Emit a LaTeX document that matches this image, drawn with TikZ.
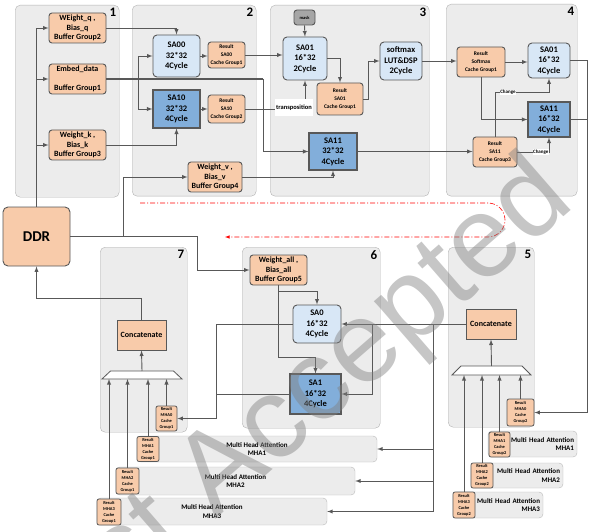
\documentclass[tikz,border=0pt]{standalone}
\usepackage{fontspec}
\setmainfont{Carlito}
\newfontfamily\markfont{Liberation Sans}
\usepackage{tikz}

\definecolor{peach}{RGB}{248,203,170}
\definecolor{salight}{RGB}{216,231,246}
\definecolor{sadark}{RGB}{130,174,218}
\definecolor{panelgray}{RGB}{236,236,236}
\definecolor{edge}{RGB}{88,88,88}

\tikzset{
  panel/.style={rectangle, draw=gray!60, fill=panelgray, rounded corners=5pt, anchor=north west},
  num/.style={anchor=north east, inner sep=3pt, font=\bfseries\fontsize{13}{13}\selectfont},
  buffer/.style={rectangle, draw=edge, line width=0.9pt, fill=peach, rounded corners=3pt, align=center, inner sep=0pt, font=\bfseries\fontsize{8}{9.5}\selectfont},
  cache/.style={buffer, font=\bfseries\fontsize{5.5}{8}\selectfont},
  tinycache/.style={buffer, rounded corners=2pt, line width=0.8pt, font=\bfseries\fontsize{4.4}{6}\selectfont},
  salite/.style={rectangle, draw=edge, line width=0.9pt, fill=salight, rounded corners=4pt, align=center, inner sep=0pt, font=\bfseries\fontsize{8.5}{10.5}\selectfont},
  sadeep/.style={salite, fill=sadark, rounded corners=0pt, line width=1.1pt},
  concat/.style={rectangle, draw=edge, line width=1pt, fill=peach, font=\bfseries\fontsize{8}{9}\selectfont},
  mux/.style={draw=edge, line width=0.8pt, fill=white},
  headbar/.style={rectangle, draw=gray!55, fill=panelgray, rounded corners=4pt, align=center, font=\bfseries\fontsize{7}{8.5}\selectfont},
  rhead/.style={headbar, align=right, inner xsep=3pt},
  chg/.style={fill=white, text=black, inner sep=0.6pt, font=\bfseries\fontsize{5}{6}\selectfont},
  wire/.style={color=edge, line width=0.9pt},
}

\begin{document}
\begin{tikzpicture}[x=1pt, y=-1pt]
\useasboundingbox (0,0) rectangle (600,532);

%% stage panels
\node at (15,5) [panel, minimum width=104pt, minimum height=192pt] (p1) {};
\node [num] at (p1.north east) {1};
\node at (132,5) [panel, minimum width=124pt, minimum height=191pt] (p2) {};
\node [num] at (p2.north east) {2};
\node at (270,5) [panel, minimum width=159pt, minimum height=191pt] (p3) {};
\node [num] at (p3.north east) {3};
\node at (446,4) [panel, minimum width=131pt, minimum height=192pt] (p4) {};
\node [num] at (p4.north east) {4};
\node at (100,247) [panel, minimum width=87pt, minimum height=185pt] (p7) {};
\node [num] at (p7.north east) {7};
\node at (242,247) [panel, minimum width=138pt, minimum height=181pt] (p6) {};
\node [num] at (p6.north east) {6};
\node at (448,247) [panel, minimum width=86pt, minimum height=180pt] (p5) {};
\node [num] at (p5.north east) {5};

%% stage 1
\node at (77.5,28) [buffer, minimum width=57pt, minimum height=30pt] (wq) {WEight\_q ,\\Bias\_q\\Buffer Group2};
\node at (77.5,79) [buffer, minimum width=57pt, minimum height=30pt] (emb) {Embed\_data\\\mbox{}\\Buffer Group1};
\node at (77.5,145) [buffer, minimum width=57pt, minimum height=30pt] (wk) {Weight\_k ,\\Bias\_k\\Buffer Group3};

%% stage 2
\node at (176.5,56) [salite, minimum width=47pt, minimum height=42pt] (sa00) {SA00\\32*32\\4Cycle};
\node at (176.5,109) [sadeep, minimum width=47pt, minimum height=38pt] (sa10) {SA10\\32*32\\4Cycle};
\node at (226.5,55) [cache, minimum width=37pt, minimum height=26pt] (rsa00) {Result\\SA00\\Cache Group1};
\node at (226.5,109) [cache, minimum width=37pt, minimum height=28pt] (rsa10) {Result\\SA10\\Cache Group2};
\node at (215,177) [buffer, minimum width=54pt, minimum height=30pt] (wv) {Weight\_v ,\\Bias\_v\\Buffer Group4};

%% stage 3
\node at (304.5,17.5) [buffer, fill=gray!70, minimum width=21pt, minimum height=15pt, font=\bfseries\fontsize{4.5}{5}\selectfont] (mask) {mask};
\node at (305,58.5) [salite, minimum width=44pt, minimum height=43pt] (sa01) {SA01\\16*32\\2Cycle};
\node at (340,99) [cache, minimum width=46pt, minimum height=32pt] (rsa01) {Result\\SA01\\Cache Group1};
\node at (401,61) [salite, minimum width=42pt, minimum height=38pt] (smax) {softmax\\LUT\&DSP\\2Cycle};
\node at (333,151.5) [sadeep, minimum width=48pt, minimum height=37pt] (sa11t) {SA11\\32*32\\4Cycle};

%% stage 4
\node at (481,62) [cache, minimum width=48pt, minimum height=30pt] (rsm) {Result\\Softmax\\Cache Group1};
\node at (549,60.5) [salite, minimum width=42pt, minimum height=35pt] (sa01f) {SA01\\16*32\\4Cycle};
\node at (549,119.5) [sadeep, minimum width=42pt, minimum height=35pt] (sa11f) {SA11\\16*32\\4Cycle};
\node at (495,152) [cache, minimum width=44pt, minimum height=30pt] (rsa11) {Result\\SA11\\Cache Group3};

%% memory
\node at (36.5,236.5) [buffer, rounded corners=5pt, minimum width=67pt, minimum height=59pt, font=\bfseries\fontsize{15}{15}\selectfont] (ddr) {DDR};

%% stage 7
\node at (141.5,335) [concat, minimum width=49pt, minimum height=30pt] (cat7) {Concatenate};
\coordinate (mux7t) at (142,371);
\coordinate (mux7b) at (142,379);
\draw [mux] (mux7t) ++(-31.5,0) -- ++(63,0) -- ++(8.5,8) -- ++(-80,0) -- cycle;
\node at (166.5,418.5) [tinycache, minimum width=21pt, minimum height=25pt] (rm0s) {Result\\MHA0\\Cache\\Group1};

%% stage 6
\node at (278.5,270) [buffer, minimum width=57pt, minimum height=30pt] (wall) {Weight\_all ,\\Bias\_all\\Buffer Group5};
\node at (317,324) [salite, minimum width=48pt, minimum height=38pt] (sa0six) {SA0\\16*32\\4Cycle};
\node at (315.5,394) [sadeep, minimum width=51pt, minimum height=40pt] (sa1six) {SA1\\16*32\\4Cycle};

%% stage 5
\node at (491,324) [concat, minimum width=50pt, minimum height=30pt] (cat5) {Concatenate};
\coordinate (mux5t) at (491.5,366);
\coordinate (mux5b) at (491.5,375);
\draw [mux] (mux5t) ++(-30.5,0) -- ++(61,0) -- ++(9,9) -- ++(-79,0) -- cycle;
\node at (520.5,412.5) [tinycache, minimum width=27pt, minimum height=27pt] (rm0f) {Result\\MHA0\\Cache\\Group2};

%% other heads
\node at (257,449) [headbar, minimum width=240pt, minimum height=26pt] (mha1) {Multi Head Attention\\MHA1};
\node at (235.5,481) [headbar, minimum width=239pt, minimum height=28pt] (mha2) {Multi Head Attention\\MHA2};
\node at (212,511.5) [headbar, minimum width=230pt, minimum height=27pt] (mha3) {Multi Head Attention\\MHA3};
\node at (148,449) [tinycache, minimum width=22pt, minimum height=25pt] (rm1) {Result\\MHA1\\Cache\\Group1};
\node at (127.5,481) [tinycache, minimum width=23pt, minimum height=26pt] (rm2) {Result\\MHA2\\Cache\\Group1};
\node at (109,512) [tinycache, minimum width=24pt, minimum height=26pt] (rm3) {Result\\MHA3\\Cache\\Group1};

\node at (532.5,444) [rhead, text width=83pt, minimum width=89pt, minimum height=26pt] (hb1) {Multi Head Attention\\MHA1};
\node at (517,475.5) [rhead, text width=86pt, minimum width=92pt, minimum height=25pt] (hb2) {Multi Head Attention\\MHA2};
\node at (498,505) [rhead, text width=84pt, minimum width=90pt, minimum height=26pt] (hb3) {Multi Head Attention\\MHA3};
\node at (499.5,444.5) [tinycache, minimum width=21pt, minimum height=25pt] (rr1) {Result\\MHA1\\Cache\\Group2};
\node at (482,475.5) [tinycache, minimum width=22pt, minimum height=25pt] (rr2) {Result\\MHA2\\Cache\\Group2};
\node at (464,505) [tinycache, minimum width=22pt, minimum height=26pt] (rr3) {Result\\MHA3\\Cache\\Group2};


\begin{scope}[>=latex, wire]
	%% from DDR
	\foreach \b in {wq,emb,wk}
		\draw [->] (ddr.north) |- (\b.west);
	\draw [->] (ddr.east) -- ++(53,0) |- (wv.west);
	\draw [->] (ddr.east) -- ++(127,0) |- (wall.west);

	%% stage 1 -> 2
	\draw [->] (wq.east) -| (sa00.north);
	\draw [->] (wk.east) -| (sa10.south);
	\draw [line width=1.3pt] (emb.east) -- ++(157,0);
	\draw [->] (emb.east) ++(32,0) |- (sa00.west);
	\draw [->] (emb.east) ++(32,0) |- (sa10.west);
	\draw [->] (emb.east) ++(157,0) |- (sa11t.west);

	%% stage 2 -> 3
	\draw [->] (sa00.east) -- (sa00.east -| rsa00.west);
	\draw [->] (sa10.east) -- (sa10.east -| rsa10.west);
	\draw [->] (rsa00.east) -- (rsa00.east -| sa01.west);
	\draw [->] (rsa10.east) -| (sa01.south);
	\draw [->] (wv.east) -| (sa11t.south);

	%% stage 3 -> 4
	\draw [->] (mask.south) -- (sa01.north);
	\draw [->] (sa01.east) -| (rsa01.north);
	\draw [->] (rsa01.east) -- ++(5,0) |- (smax.west);
	\draw [->] (smax.east) -- (smax.east -| rsm.west);
	\draw [->] (sa11t.east) -- (sa11t.east -| rsa11.west);
	\draw [->] (rsm.east) -- (rsm.east -| sa01f.west);
	\draw [->] (rsm.south) |- (sa11f.west);
	\draw [->] (rsa11.north) -- ++(0,-44) -| (sa01f.south) node [chg, pos=0.12] {Change};
	\draw [->] (rsa11.east) -| (sa11f.south) node [chg, pos=0.37] {Change};

	%% stage 4 -> 5
	\draw [->] (sa01f.east) -- ++(17,0) |- (rm0f.east);
	\draw (sa11f.east) -- ++(17,0);
	\foreach \r in {rm0f,rr1,rr2,rr3}
		\draw [->] (\r.north) -- (\r.north |- mux5b);
	\draw [->] (mux5t) -- (cat5.south);

	%% stage 5 -> 6 and other heads
	\draw [->] (cat5.west) -- (cat5.west -| sa0six.east);
	\draw [->] (cat5.west) ++(-93,0) |- (sa1six.east);
	\foreach \m in {mha1,mha2,mha3}
		\draw [->] (cat5.west) ++(-32,0) |- (\m.east);
	\draw [->] (wall.south) -- ++(0,6) -| (sa0six.north);
	\draw [->] (wall.south) -- ++(0,72) -| (sa1six.north);

	%% stage 6 -> 7
	\draw [->] (sa0six.west) -- ++(-76,0) |- (rm0s.east);
	\draw (sa1six.west) -- ++(-73,0);
	\foreach \r in {rm0s,rm1,rm2,rm3}
		\draw [->] (\r.north) -- (\r.north |- mux7b);
	\draw [->] (mux7t) -- (cat7.south);
	\draw [->] (cat7.north) -- ++(0,-21) -| (ddr.south);
\end{scope}

\node at (294,108) [fill=white, inner xsep=1pt, minimum height=17pt, font=\bfseries\fontsize{6.5}{7}\selectfont] (trans) {transposition};

%% data flow
\coordinate (flowstart) at (140,203);
\coordinate (flowend) at (225,237);
\draw [red, line width=0.6pt, dash pattern=on 5pt off 2pt on 1pt off 2pt, rounded corners=17pt, -latex]
	(flowstart) -- (505,203) -- (505,237) -- (flowend);

\node at (331,380) [rotate=41, text=gray, opacity=0.45, font=\markfont\fontsize{115}{115}\selectfont] (stamp) {st Accepted};

\end{tikzpicture}
\end{document}
